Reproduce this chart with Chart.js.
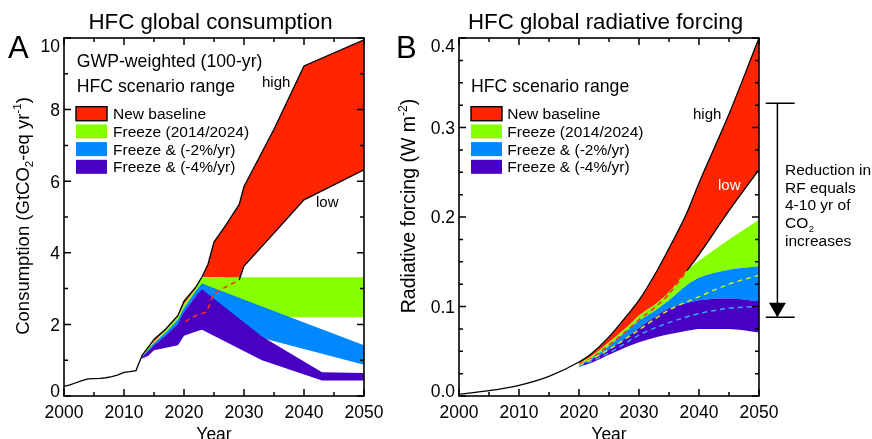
<!DOCTYPE html>
<html><head><meta charset="utf-8">
<script src="https://cdn.jsdelivr.net/npm/chart.js@4/dist/chart.umd.min.js"></script>
<style>
html,body{margin:0;padding:0;background:#fff;}
#wrap{position:relative;width:872px;height:439px;overflow:hidden;background:#fff;}
canvas{position:absolute;left:0;top:0;}
</style></head><body>
<div id="wrap"><canvas id="ca" width="872" height="439"></canvas><canvas id="cb" width="872" height="439"></canvas></div>
<script>
// ---------- Panel A : HFC global consumption (GtCO2-eq / yr) ----------
const yearsHistA = [2000,2001,2002,2003,2004,2006,2007,2008,2009,2010,2011,2012];
const histA      = [0.27,0.31,0.37,0.43,0.48,0.49,0.51,0.54,0.59,0.66,0.68,0.71];
const yearsRedA  = [2013,2015,2017,2019,2020,2022,2023,2024,2025,2027,2029.2,2030,2035,2040,2050];
const redHighA   = [1.13,1.58,1.88,2.25,2.65,3.05,3.33,3.68,4.30,4.78,5.35,5.85,7.45,9.22,9.95];
const redLowA    = [1.12,1.53,1.84,2.22,2.56,3.00,3.32,3.32,3.32,3.30,3.24,3.63,4.55,5.48,6.32];
const yearsGreenA = [2013,2015,2017,2019,2020,2022,2023,2030,2050];
const greenHighA  = [1.12,1.53,1.84,2.22,2.56,3.00,3.32,3.32,3.32];
const greenLowA   = [1.10,1.48,1.78,2.14,2.46,2.95,3.10,2.20,2.20];
const yearsBlueA = [2013,2015,2017,2019,2020,2022,2023,2033,2050];
const blueHighA  = [1.10,1.48,1.78,2.14,2.46,2.95,3.14,2.50,1.42];
const blueLowA   = [1.08,1.42,1.70,2.02,2.35,2.80,2.90,1.62,0.87];
const yearsPurpleA = [2013,2014,2015,2017,2019,2019.5,2020,2022,2023,2033,2043,2050];
const purpleHighA  = [1.08,1.25,1.42,1.70,2.02,2.20,2.35,2.80,2.98,1.66,0.66,0.64];
const purpleLowA   = [1.05,1.12,1.28,1.35,1.42,1.55,1.68,1.80,1.85,1.00,0.43,0.43];
const yearsDashA = [2020.2,2022,2023.8,2024.9,2027,2029.2];
const dashRedA   = [2.08,2.25,2.35,2.85,3.05,3.24];
const yTicksA = [0,2,4,6,8,10];

// ---------- Panel B : HFC global radiative forcing (W m-2) ----------
const yearsHistB = [2000,2005,2010,2015];
const histB      = [0.002,0.006,0.012,0.022];
const yearsB      = [2020,2022,2025,2028,2030,2033,2035,2038,2040,2045,2050];
const highB       = [0.038,0.047,0.066,0.090,0.107,0.140,0.165,0.205,0.238,0.315,0.400];
const lowB        = [0.036,0.044,0.060,0.077,0.090,0.104,0.116,0.140,0.158,0.207,0.253];
const greenHighB  = [0.036,0.044,0.060,0.077,0.090,0.104,0.116,0.140,0.151,0.175,0.197];
const blueHighB   = [0.035,0.042,0.056,0.073,0.084,0.097,0.107,0.124,0.132,0.141,0.145];
const purpleHighB = [0.034,0.040,0.052,0.066,0.076,0.090,0.098,0.104,0.107,0.109,0.106];
const purpleLowB  = [0.033,0.037,0.046,0.055,0.060,0.066,0.069,0.073,0.075,0.075,0.071];
const yearsDashRedB = [2020,2022,2025,2028,2030,2033,2035,2038];
const dashRedB      = [0.035,0.042,0.057,0.073,0.085,0.101,0.114,0.140];
const yearsDashB = [2020,2025,2030,2035,2040,2045,2050];
const dashGreenB = [0.034,0.052,0.074,0.096,0.111,0.125,0.135];
const dashBlueB  = [0.033,0.048,0.068,0.082,0.092,0.098,0.100];
const arrowRangeB = [0.327,0.088];
const yTicksB = [0,0.1,0.2,0.3,0.4];
const yTickLabelsB = ['0.0','0.1','0.2','0.3','0.4'];

const xTicks = [2000,2010,2020,2030,2040,2050];
const legendLabels = ['New baseline','Freeze (2014/2024)','Freeze & (-2%/yr)','Freeze & (-4%/yr)'];

const C_RED='#ff2500', C_GREEN='#88ff00', C_BLUE='#0088ff', C_PURPLE='#4800c4';
const FONT='"Liberation Sans", Arial, Helvetica, sans-serif';
const font = s => s+'px '+FONT;

function pts(xs, ys){ return xs.map((x,i)=>({x:x, y:ys[i]})); }
function lineDs(label, xs, ys, color, width, dash, mono){
  return {label, data: pts(xs,ys), borderColor: color, borderWidth: width, borderDash: dash||[],
    pointRadius:0, fill:false, tension:0, cubicInterpolationMode: mono?'monotone':'default'};
}
function bandDs(label, xs, hi, lo, color, loIndex, mono){
  return [
    {label: label+' upper', data: pts(xs,hi), borderColor:'rgba(0,0,0,0)', borderWidth:0.01, pointRadius:0,
      backgroundColor: color, fill:{target: loIndex}, tension:0, cubicInterpolationMode: mono?'monotone':'default'},
    {label: label+' lower', data: pts(xs,lo), borderColor:'rgba(0,0,0,0)', borderWidth:0.01, pointRadius:0,
      fill:false, tension:0, cubicInterpolationMode: mono?'monotone':'default'}
  ];
}

function drawFrame(chart, xMinor, xMajor, yMinor, yMajor){
  const ctx=chart.ctx, a=chart.chartArea, xs=chart.scales.x, ys=chart.scales.y;
  ctx.save();
  ctx.strokeStyle='#000'; ctx.lineWidth=1.5;
  ctx.beginPath();
  let n=Math.round((xs.max-xs.min)/xMinor);
  for(let i=0;i<=n;i++){
    const v=xs.min+i*xMinor, px=xs.getPixelForValue(v);
    const len=(Math.abs(v/xMajor-Math.round(v/xMajor))<1e-6)?7:4;
    ctx.moveTo(px,a.bottom); ctx.lineTo(px,a.bottom-len);
    ctx.moveTo(px,a.top); ctx.lineTo(px,a.top+len);
  }
  n=Math.round((ys.max-ys.min)/yMinor);
  for(let i=0;i<=n;i++){
    const v=ys.min+i*yMinor, py=ys.getPixelForValue(v);
    const len=(Math.abs(v/yMajor-Math.round(v/yMajor))<1e-6)?7:4;
    ctx.moveTo(a.left,py); ctx.lineTo(a.left+len,py);
    ctx.moveTo(a.right,py); ctx.lineTo(a.right-len,py);
  }
  ctx.stroke();
  ctx.lineWidth=1.6;
  ctx.strokeRect(a.left,a.top,a.right-a.left,a.bottom-a.top);
  ctx.restore();
}
function drawTickLabels(chart, yVals, yLabels){
  const ctx=chart.ctx, a=chart.chartArea, xs=chart.scales.x, ys=chart.scales.y;
  ctx.save(); ctx.fillStyle='#000'; ctx.font=font(17.5); ctx.textBaseline='alphabetic';
  ctx.textAlign='center';
  xTicks.forEach(v=>ctx.fillText(String(v), xs.getPixelForValue(v), a.bottom+22));
  ctx.textAlign='right';
  yVals.forEach((v,i)=>{
    let b=ys.getPixelForValue(v)+6.3;
    b=Math.max(b,a.top+13.5); b=Math.min(b,a.bottom+0.5);
    ctx.fillText(yLabels[i], a.left-4, b);
  });
  ctx.textAlign='center';
  ctx.fillText('Year', (a.left+a.right)/2, 439.5);
  ctx.restore();
}
function richText(ctx, segs, size){
  let total=0;
  segs.forEach(s=>{ ctx.font=font(s.k?size*0.62:size); s.w=ctx.measureText(s.t).width; total+=s.w; });
  let x=-total/2;
  segs.forEach(s=>{
    ctx.font=font(s.k?size*0.62:size);
    const dy = s.k==='sub'? size*0.22 : s.k==='sup'? -size*0.42 : 0;
    ctx.fillText(s.t, x, dy); x+=s.w;
  });
}
function drawYTitle(ctx, segs, bx, cy, size){
  ctx.save(); ctx.fillStyle='#000'; ctx.textAlign='left'; ctx.textBaseline='alphabetic';
  ctx.translate(bx,cy); ctx.rotate(-Math.PI/2);
  richText(ctx, segs, size);
  ctx.restore();
}
function drawLegend(ctx, boxX, textX){
  const cols=[C_RED,C_GREEN,C_BLUE,C_PURPLE];
  const tops=[106.7,124.4,142.1,159.8];
  ctx.save();
  cols.forEach((c,i)=>{
    ctx.fillStyle=c; ctx.fillRect(boxX,tops[i],31,14);
    if(i===0){ ctx.strokeStyle='#000'; ctx.lineWidth=1.4; ctx.strokeRect(boxX,tops[i],31,14); }
    ctx.fillStyle='#000'; ctx.font=font(15.5); ctx.textAlign='left'; ctx.textBaseline='alphabetic';
    ctx.fillText(legendLabels[i], textX, tops[i]+12.6);
  });
  ctx.restore();
}
function txt(ctx, s, x, y, size, align, color){
  ctx.save(); ctx.fillStyle=color||'#000'; ctx.font=font(size); ctx.textAlign=align||'left';
  ctx.textBaseline='alphabetic'; ctx.fillText(s,x,y); ctx.restore();
}

const decorA = { id:'decorA', afterDraw(chart){
  const ctx=chart.ctx, a=chart.chartArea;
  drawFrame(chart, 5, 10, 1, 2);
  drawTickLabels(chart, yTicksA, yTicksA.map(String));
  txt(ctx,'HFC global consumption',(a.left+a.right)/2-3.5,29.3,22.3,'center');
  txt(ctx,'A',8,58.3,31,'left');
  txt(ctx,'GWP-weighted (100-yr)',76.7,66.5,17.7,'left');
  txt(ctx,'HFC scenario range',76.7,91.7,17.7,'left');
  drawLegend(ctx,76,113);
  txt(ctx,'high',262,87.3,15,'left');
  txt(ctx,'low',316,207.3,15,'left');
  drawYTitle(ctx,[{t:'Consumption (GtCO'},{t:'2',k:'sub'},{t:'-eq yr'},{t:'-1',k:'sup'},{t:')'}],29,216,18.5);
}};

const decorB = { id:'decorB', afterDraw(chart){
  const ctx=chart.ctx, a=chart.chartArea, ys=chart.scales.y;
  drawFrame(chart, 5, 10, 0.025, 0.1);
  drawTickLabels(chart, yTicksB, yTickLabelsB);
  txt(ctx,'HFC global radiative forcing',(a.left+a.right)/2-3.5,29.3,22.3,'center');
  txt(ctx,'B',396,58.3,31,'left');
  txt(ctx,'HFC scenario range',471,91.7,17.7,'left');
  drawLegend(ctx,471,507.3);
  txt(ctx,'high',693,119,15,'left');
  txt(ctx,'low',718,190,15,'left','#fff');
  drawYTitle(ctx,[{t:'Radiative forcing (W m'},{t:'-2',k:'sup'},{t:')'}],415,206,19.5);
  // reduction arrow
  const yT=ys.getPixelForValue(arrowRangeB[0]), yB=ys.getPixelForValue(arrowRangeB[1]);
  const xl=a.right+18.4;
  ctx.save(); ctx.strokeStyle='#000'; ctx.fillStyle='#000'; ctx.lineWidth=1.5;
  ctx.beginPath();
  ctx.moveTo(xl-11.7,yT); ctx.lineTo(xl+17.3,yT);
  ctx.moveTo(xl,yT); ctx.lineTo(xl,yB);
  ctx.moveTo(xl-11.7,yB); ctx.lineTo(xl+17.3,yB);
  ctx.stroke();
  ctx.beginPath(); ctx.moveTo(xl-8.5,yB-14.5); ctx.lineTo(xl+8.5,yB-14.5); ctx.lineTo(xl,yB); ctx.closePath(); ctx.fill();
  ctx.restore();
  const tx=785;
  txt(ctx,'Reduction in',tx,175,15.5);
  txt(ctx,'RF equals',tx,192.7,15.5);
  txt(ctx,'4-10 yr of',tx,210.4,15.5);
  txt(ctx,'CO',tx,228.1,15.5);
  ctx.save(); ctx.font=font(15.5); const wco=ctx.measureText('CO').width; ctx.restore();
  txt(ctx,'2',tx+wco+0.5,231.5,9.5);
  txt(ctx,'increases',tx,245.8,15.5);
}};

function scalesCfg(ymin,ymax){
  return { x:{type:'linear',min:2000,max:2050,display:false},
           y:{type:'linear',min:ymin,max:ymax,display:false} };
}
function opts(pad, ymin, ymax){
  return { responsive:false, animation:false, events:[],
    layout:{padding:pad}, scales:scalesCfg(ymin,ymax),
    plugins:{legend:{display:false}, tooltip:{enabled:false}, filler:{drawTime:'beforeDatasetsDraw', propagate:false}} };
}

// Panel A datasets: lines first (drawn on top), then bands (purple on top)
const dsA = [
  lineDs('Baseline low (dashed)', yearsDashA, dashRedA, '#ff3010', 1.5, [5,4], false),
  lineDs('Baseline low', yearsRedA.slice(10), redLowA.slice(10), '#000', 1.3, null, false),
  lineDs('History / baseline high', yearsHistA.concat(yearsRedA), histA.concat(redHighA), '#000', 1.3, null, false),
  ...bandDs('Freeze & (-4%/yr)', yearsPurpleA, purpleHighA, purpleLowA, C_PURPLE, 4, false),
  ...bandDs('Freeze & (-2%/yr)', yearsBlueA, blueHighA, blueLowA, C_BLUE, 6, false),
  ...bandDs('Freeze (2014/2024)', yearsGreenA, greenHighA, greenLowA, C_GREEN, 8, false),
  ...bandDs('New baseline', yearsRedA, redHighA, redLowA, C_RED, 10, false)
];
new Chart(document.getElementById('ca'), {type:'line', data:{datasets:dsA},
  options:opts({left:64,right:872-364,top:38,bottom:439-396},0,10), plugins:[decorA]});

const dsB = [
  lineDs('Freeze & (-2%/yr) mid', yearsDashB, dashBlueB, '#38aaff', 1.5, [5,4], true),
  lineDs('Freeze mid', yearsDashB, dashGreenB, '#c6ee2a', 1.5, [5,4], true),
  lineDs('Baseline low (dashed)', yearsDashRedB, dashRedB, '#ff3010', 1.5, [5,4], true),
  lineDs('Baseline low', yearsB.slice(7), lowB.slice(7), '#000', 1.3, null, true),
  lineDs('History / baseline high', yearsHistB.concat(yearsB), histB.concat(highB), '#000', 1.3, null, true),
  ...bandDs('Freeze & (-4%/yr)', yearsB, purpleHighB, purpleLowB, C_PURPLE, 6, true),
  ...bandDs('Freeze & (-2%/yr)', yearsB, blueHighB, purpleHighB, C_BLUE, 8, true),
  ...bandDs('Freeze (2014/2024)', yearsB, greenHighB, blueHighB, C_GREEN, 10, true),
  ...bandDs('New baseline', yearsB, highB, lowB, C_RED, 12, true)
];
new Chart(document.getElementById('cb'), {type:'line', data:{datasets:dsB},
  options:opts({left:459,right:872-759,top:38,bottom:439-396},0,0.4), plugins:[decorB]});
</script>
</body></html>
